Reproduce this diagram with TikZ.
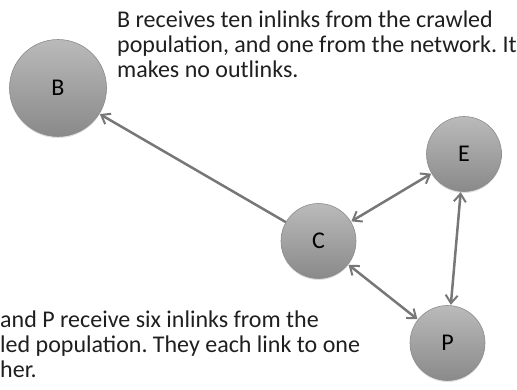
\documentclass[tikz,border=0pt]{standalone}
\usepackage{fontspec}
\setmainfont{Carlito}
\usetikzlibrary{arrows.meta,shadows}
\definecolor{edgegray}{HTML}{777777}
\newcommand{\lblfont}{\fontsize{24}{28}\selectfont}
\newcommand{\notefont}{\fontsize{24}{25.2}\selectfont}
\tikzset{
  site/.style={circle, draw=black!45, line width=0.6pt, top color=black!27, bottom color=black!46,
    minimum size=#1, inner sep=0pt,
    drop shadow={shadow xshift=0pt, shadow yshift=-1.5pt, opacity=0.25}},
  tip/.tip={Straight Barb[length=8pt,width=12pt,line width=2pt]},
  link/.style={draw=edgegray, line width=2.5pt, -tip},
  both/.style={draw=edgegray, line width=2.5pt, tip-tip},
  note/.style={inner sep=0pt, align=left, text=black!88}
}
\begin{document}
\frenchspacing
\begin{tikzpicture}[x=1pt,y=-1pt]
\useasboundingbox (0,0) rectangle (517,389);
\node[site=97pt] (B) at (58,88) {\lblfont B};
\node[site=75pt] (E) at (464,154) {\lblfont E};
\node[site=75pt] (C) at (318.5,241) {\lblfont C};
\node[site=75pt] (P) at (447.5,343) {\lblfont P};
\draw[link, shorten >=0.5pt] (C.150) -- (B.-32);
\draw[both, shorten <=0.5pt, shorten >=0.5pt] (C) -- (E);
\draw[both, shorten <=0.5pt, shorten >=0.5pt] (P) -- (E);
\draw[both, shorten <=0.5pt, shorten >=0.5pt] (C) -- (P);
\node[note, font=\notefont, anchor=base west] (t1) at (117,77.4) {B receives ten inlinks from the crawled\\population, and one from the network. It\\makes no outlinks.};
\node[note, font=\notefont, anchor=base west] (t2) at (0,377.4) {and P receive six inlinks from the\\led population. They each link to one\\her.};
\end{tikzpicture}
\end{document}
